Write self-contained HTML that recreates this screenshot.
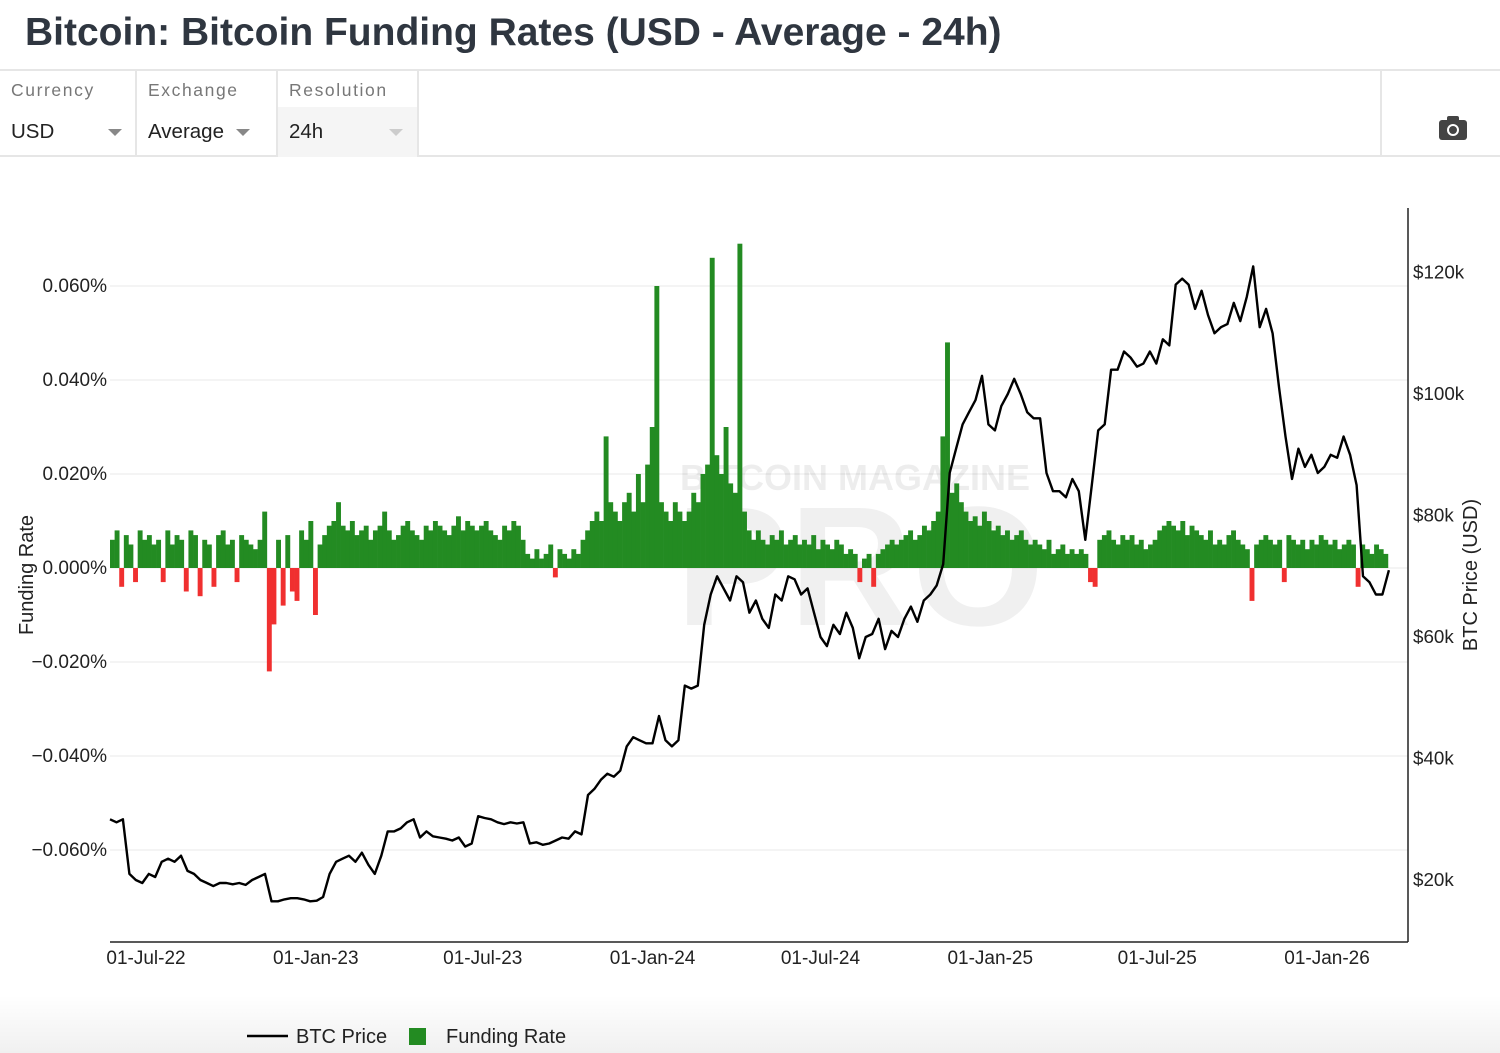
<!DOCTYPE html>
<html><head><meta charset="utf-8">
<style>
body{margin:0;width:1500px;height:1053px;background:#fff;font-family:"Liberation Sans",sans-serif;overflow:hidden;position:relative}
.title{position:absolute;left:25px;top:11px;font-size:39px;font-weight:bold;color:#2f3640}
.bar{position:absolute;left:0;top:69px;width:1500px;height:88px;border-top:2px solid #e6e6e6;border-bottom:2px solid #e6e6e6;box-sizing:border-box}
.ctl{position:absolute;top:0;height:86px;border-right:2px solid #e6e6e6;box-sizing:border-box}
.ctl .lb{position:absolute;left:11px;top:9px;font-size:17.5px;letter-spacing:1.6px;color:#777}
.ctl .v{position:absolute;left:11px;top:49px;font-size:20.5px;color:#222}
.ctl .ar{position:absolute;top:58px;width:0;height:0;border-left:7px solid transparent;border-right:7px solid transparent;border-top:7px solid #888}
.fade{position:absolute;left:0;top:995px;width:1500px;height:58px;background:linear-gradient(to bottom,rgba(0,0,0,0),rgba(0,0,0,0.06))}
</style></head><body>
<div class="title">Bitcoin: Bitcoin Funding Rates (USD - Average - 24h)</div>
<div class="bar">
 <div class="ctl" style="left:0;width:137px"><div class="lb">Currency</div><div class="v">USD</div><div class="ar" style="left:108px"></div></div>
 <div class="ctl" style="left:137px;width:141px"><div class="lb">Exchange</div><div class="v">Average</div><div class="ar" style="left:99px"></div></div>
 <div class="ctl" style="left:278px;width:141px"><div style="position:absolute;left:0;top:36px;width:139px;height:50px;background:#f5f5f5"></div><div class="lb">Resolution</div><div class="v">24h</div><div class="ar" style="left:111px;border-top-color:#ccc"></div></div>
 <div class="ctl" style="left:1380px;width:120px;border-right:none;border-left:2px solid #e6e6e6">
  <svg width="30" height="26" style="position:absolute;left:56px;top:44px" viewBox="0 0 30 26"><rect x="1" y="5" width="28" height="20" rx="3" fill="#444"/><rect x="9" y="1" width="12" height="6" rx="2" fill="#444"/><circle cx="15" cy="15" r="6" fill="#fff"/><circle cx="15" cy="15" r="4" fill="#444"/></svg>
 </div>
</div>
<div class="fade"></div>
<svg id="chart" width="1500" height="1053" style="position:absolute;left:0;top:0"></svg>
<script>
const fundStartIdx=0, fundStepDays=5, priceStepDays=7;
const yTicks=[0.06,0.04,0.02,0,-0.02,-0.04,-0.06];
const yTickLabels=["0.060%","0.040%","0.020%","0.000%","\u22120.020%","\u22120.040%","\u22120.060%"];
const pTicks=[20,40,60,80,100,120];
const pTickLabels=["$20k","$40k","$60k","$80k","$100k","$120k"];
const xTickDays=[39,223,404,588,770,954,1135,1319];
const xTickLabels=["01-Jul-22","01-Jan-23","01-Jul-23","01-Jan-24","01-Jul-24","01-Jan-25","01-Jul-25","01-Jan-26"];
// funding rate in 0.001% units, every 5 days
const funding=[6,8,-4,7,5,-3,8,6,7,5,6,-3,8,5,7,6,-5,8,7,-6,6,5,-4,7,8,5,6,-3,7,6,5,4,6,12,-22,-12,6,-8,7,-5,-7,8,6,10,-10,5,7,9,10,14,9,8,10,7,8,9,6,8,9,12,8,6,7,9,10,8,7,6,9,8,10,9,8,7,9,11,8,10,9,8,9,10,8,7,6,9,8,10,9,6,3,2,4,2,3,5,-2,4,3,2,4,3,6,8,10,12,10,28,14,12,10,14,16,12,20,14,22,30,60,14,12,10,14,12,10,12,16,14,20,22,66,24,20,30,18,16,69,12,8,6,8,6,5,7,6,8,5,6,7,5,6,5,7,4,6,5,4,6,5,3,4,3,-3,2,3,-4,3,4,5,6,5,6,7,8,6,7,9,8,10,12,28,48,16,18,14,12,10,11,9,12,10,8,9,7,8,6,7,8,6,5,6,5,4,6,3,4,5,3,4,3,4,3,-3,-4,6,7,8,6,5,7,6,7,5,6,4,5,6,8,9,10,9,8,10,7,9,8,7,6,8,5,6,5,7,8,6,5,4,-7,5,6,7,6,5,6,-3,7,6,5,6,4,6,5,7,6,5,6,4,5,6,5,-4,5,4,3,5,4,3];
// BTC price in $k, weekly
const price=[30,29.5,30,21,20,19.5,21,20.5,23,23.5,23,24,21.5,21,20,19.5,19,19.5,19.5,19.3,19.5,19.2,20,20.5,21,16.5,16.5,16.8,17,17,16.8,16.5,16.6,17.2,21,23,23.5,24,23,24.5,22.5,21,24,28,28,28.5,29.5,30,27,28,27.2,27,26.8,26.5,27,25.5,26,30.5,30.2,30,29.5,29.2,29.5,29.3,29.5,26,26.2,25.8,26,26.5,27,26.8,28,27.5,34,35,36.5,37.5,37,38,42,43.5,43,42.5,42.5,47,43,42,43,52,51.5,52,62,67,70,68,66,70,69,64,66,63,61.5,67,66,70,69.5,67,68,64,60,58.5,62,60.5,64,61.5,56.5,60,60.5,63,58,61,60,63,65,62.5,66,67,68.5,72,87,91,95,97,99,103,95,94,98,100,102.5,100,97,96,96,87,84,84,83,86,84,76,85,94,95,104,104,107,106,104.5,105,107,105,109,108,118,119,118,114,117,113,110,111,111.5,115,112,116,121,111,114,110,101,93,86,91,88,90,87,88,90,89.5,93,90,85,70,69,67,67,71];

const NS="http://www.w3.org/2000/svg";
const svg=document.getElementById('chart');
const X0=110,X1=1408,PX_PER_DAY=0.9227;
const xs=d=>X0+d*PX_PER_DAY;
const yF=v=>568-v*4700;
const yP=k=>1001.5-k*6.075;
function mk(t,a,parent){const e=document.createElementNS(NS,t);for(const k in a)e.setAttribute(k,a[k]);(parent||svg).appendChild(e);return e;}
yTicks.forEach((t,i)=>{
 const g=mk('line',{x1:X0,x2:X1,y1:yF(t),y2:yF(t),stroke:'#e8e8e8','stroke-width':1});
 
 
 const tx=mk('text',{x:107,y:yF(t)+6,'text-anchor':'end','font-size':19,fill:'#222'});
 tx.textContent=yTickLabels[i];
 
 
});
const wm=mk('text',{x:855,y:490,'text-anchor':'middle','font-size':36,'font-weight':'bold',fill:'#000','fill-opacity':0.07});
wm.textContent='BITCOIN MAGAZINE';


const wm2=mk('text',{x:860,y:625,'text-anchor':'middle','font-size':170,'font-weight':'bold',fill:'#000','fill-opacity':0.06});
wm2.textContent='PRO';


const bw=fundStepDays*PX_PER_DAY;
funding.forEach((v,i)=>{
 const r=v/1000, x=xs((fundStartIdx+i)*fundStepDays);
 const y0=yF(0),y1=yF(r);
 const b=mk('rect',{x:x,y:Math.min(y0,y1),width:bw+0.3,height:Math.abs(y1-y0),fill:r>=0?'#238b22':'#f03030'});
 
 
});
const pts=price.map((p,i)=>xs(i*priceStepDays).toFixed(1)+','+yP(p).toFixed(1)).join(' ');
const pl=mk('polyline',{points:pts,fill:'none',stroke:'#000','stroke-width':2.4,'stroke-linejoin':'round'});


const ax=mk('line',{x1:X0,x2:X1,y1:942,y2:942,stroke:'#222','stroke-width':1.5});


const ay=mk('line',{x1:X1,x2:X1,y1:208,y2:942,stroke:'#222','stroke-width':1.5});


xTickDays.forEach((d,i)=>{
 const t=mk('text',{x:xs(d),y:964,'text-anchor':'middle','font-size':19,fill:'#222'});
 t.textContent=xTickLabels[i];
 
 
});
pTicks.forEach((p,i)=>{
 const t=mk('text',{x:1413,y:yP(p)+6,'font-size':18.8,fill:'#222'});
 t.textContent=pTickLabels[i];
 
 
});
const yl=mk('text',{x:0,y:0,'font-size':20,fill:'#222','text-anchor':'middle',transform:'translate(33,575) rotate(-90)'});
yl.textContent='Funding Rate';


const yr=mk('text',{x:0,y:0,'font-size':20,fill:'#222','text-anchor':'middle',transform:'translate(1477,575) rotate(-90)'});
yr.textContent='BTC Price (USD)';


const lg=mk('g',{});


const l1=mk('line',{x1:247,x2:288,y1:1036,y2:1036,stroke:'#000','stroke-width':2.5},lg);


const t1=mk('text',{x:296,y:1043,'font-size':20,fill:'#222'},lg);t1.textContent='BTC Price';


const r2=mk('rect',{x:409,y:1028,width:17,height:17,fill:'#238b22'},lg);


const t2=mk('text',{x:446,y:1043,'font-size':20,fill:'#222'},lg);t2.textContent='Funding Rate';


</script>
</body></html>
